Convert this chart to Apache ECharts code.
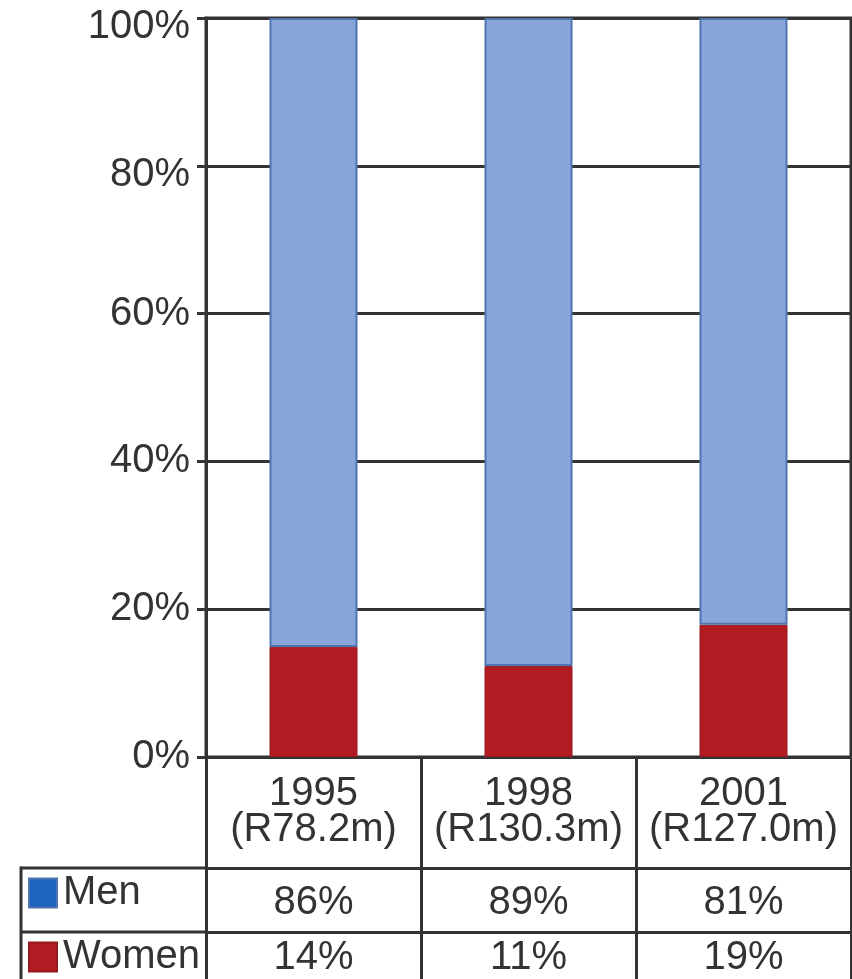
<!DOCTYPE html>
<html>
<head>
<meta charset="utf-8">
<script src="https://cdn.jsdelivr.net/npm/echarts@6/dist/echarts.min.js"></script>
<style>html,body{margin:0;padding:0;background:#fff;}#c{width:852px;height:979px;}</style>
</head>
<body>
<div id="c"></div>
<script>
// ---- data ----
const categories = ['1995', '1998', '2001'];
const headerLabels = ['1995\n(R78.2m)', '1998\n(R130.3m)', '2001\n(R127.0m)'];
const womenBar = [14.9, 12.3, 17.9];   // bar heights as drawn (%)
const menBar = [85.1, 87.7, 82.1];
const menTable = ['86%', '89%', '81%'];
const womenTable = ['14%', '11%', '19%'];
const seriesNames = ['Men', 'Women'];

const FONT = '"Liberation Sans", Arial, sans-serif';
const TXT = '#333333';
const LINE = '#333333';

const chart = echarts.init(document.getElementById('c'), null, {renderer: 'canvas'});

function tableAxis(labels, offset, tickLen, margin) {
  return {
    type: 'category', data: categories, position: 'bottom', offset: offset,
    boundaryGap: true,
    axisLine: {show: true, lineStyle: {color: LINE, width: 3}},
    axisTick: {show: true, length: tickLen, interval: 0, lineStyle: {color: LINE, width: 3}},
    axisLabel: {
      interval: 0, margin: margin, color: TXT, fontFamily: FONT, fontSize: 40, lineHeight: 36,
      formatter: (v, i) => labels[i]
    },
    splitLine: {show: false}
  };
}

function legendFor(name, color, top) {
  return {
    left: 28, top: top, padding: 0, itemWidth: 28, itemHeight: 29, icon: 'rect', selectedMode: false,
    textStyle: {fontFamily: FONT, fontSize: 40, lineHeight: 40, color: TXT, padding: [0, 0, 0, 1]},
    data: [{name: name, itemStyle: {color: color}}]
  };
}

chart.setOption({
  animation: false,
  backgroundColor: '#ffffff',
  grid: {left: 206, right: 1, top: 18, bottom: 222, show: true, borderColor: LINE, borderWidth: 3, backgroundColor: 'transparent'},
  legend: [
    legendFor(seriesNames[0], '#1f63c1', 873),
    legendFor(seriesNames[1], '#b01c22', 937)
  ],
  xAxis: [
    tableAxis(headerLabels, 0, 111, 19),
    tableAxis(menTable, 111, 64, 17),
    tableAxis(womenTable, 175, 50, 8)
  ],
  yAxis: {
    type: 'value', min: 0, max: 100, interval: 20,
    axisLine: {show: true, lineStyle: {color: LINE, width: 3}},
    axisTick: {show: true, length: 9, lineStyle: {color: LINE, width: 3}},
    splitLine: {show: true, lineStyle: {color: LINE, width: 3}},
    axisLabel: {
      margin: 16, color: TXT, fontFamily: FONT, fontSize: 40,
      formatter: v => (v >= 80 ? '{low|' + v + '%}' : v + '%'),
      rich: {low: {fontFamily: FONT, fontSize: 40, color: TXT, padding: [18, 0, 0, 0]}}
    }
  },
  series: [
    {
      name: seriesNames[1], type: 'bar', stack: 'all', data: womenBar, barWidth: 88,
      itemStyle: {color: '#b01c22', borderColor: '#951a1e', borderWidth: 1}
    },
    {
      name: seriesNames[0], type: 'bar', stack: 'all', data: menBar, barWidth: 88,
      itemStyle: {color: '#87a5d9', borderColor: '#4f74b0', borderWidth: 2}
    }
  ],
  graphic: [
    {type: 'line', shape: {x1: 21, y1: 868, x2: 206, y2: 868}, style: {stroke: LINE, lineWidth: 3}},
    {type: 'line', shape: {x1: 21, y1: 932, x2: 206, y2: 932}, style: {stroke: LINE, lineWidth: 3}},
    {type: 'line', shape: {x1: 21, y1: 866.5, x2: 21, y2: 979}, style: {stroke: LINE, lineWidth: 3}}
  ]
});
</script>
</body>
</html>
